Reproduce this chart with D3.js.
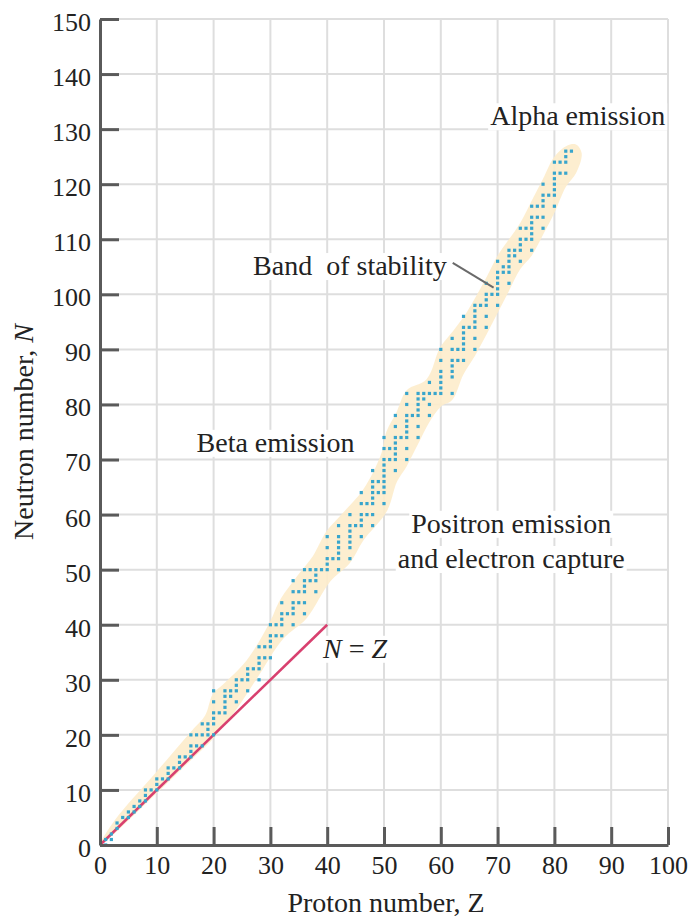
<!DOCTYPE html>
<html>
<head>
<meta charset="utf-8">
<script src="https://cdn.jsdelivr.net/npm/d3@7"></script>
<style>
  html, body { margin: 0; padding: 0; background: #fff; }
  svg { display: block; }
  text { font-family: "Liberation Serif", "Times New Roman", serif; fill: #222; }
</style>
</head>
<body>
<svg id="chart" width="693" height="917"></svg>
<script>
// ---------- data ----------
const zTicks = [0, 10, 20, 30, 40, 50, 60, 70, 80, 90, 100];
const nTicks = [0, 10, 20, 30, 40, 50, 60, 70, 80, 90, 100, 110, 120, 130, 140, 150];

// stable neutron numbers N for each proton number Z = 1..83 (index = Z-1)
const stableNeutrons = [
  [0,1],[1,2],[3,4],[5],[5,6],[6,7],[7,8],[8,9,10],[10],[10,11,12],
  [12],[12,13,14],[14],[14,15,16],[16],[16,17,18,20],[18,20],[18,20,22],[20,21,22],[20,22,23,24,26,28],
  [24],[24,25,26,27,28],[27,28],[26,28,29,30],[30],[28,30,31,32],[32],[30,32,33,34,36],[34,36],[34,36,37,38,40],
  [38,40],[38,40,41,42,44],[42],[40,42,43,44,46,48],[44,46],[42,44,46,47,48,50],[48,50],[46,48,49,50],[50],[50,51,52,54,56],
  [52],[50,52,53,54,55,56,58],[],[52,54,55,56,57,58,60],[58],[56,58,59,60,62,64],[60,62],[58,60,62,63,64,65,66,68],[64,66],[62,64,65,66,67,68,69,70,72,74],
  [70,72],[68,70,71,72,73,74,76,78],[74],[70,72,74,75,76,77,78,80,82],[78],[74,76,78,79,80,81,82],[81,82],[78,80,82,84],[82],[82,83,84,85,86,88,90],
  [],[82,85,86,87,88,90,92],[88,90],[88,90,91,92,93,94,96],[94],[90,92,94,95,96,97,98],[98],[94,96,98,99,100,102],[100],[98,100,101,102,103,104,106],
  [104,105],[102,104,105,106,107,108],[107,108],[106,108,109,110,112],[110,112],[108,110,111,112,113,114,116],[114,116],[112,114,116,117,118,120],[118],[116,118,119,120,121,122,124],
  [122,124],[122,124,125,126],[126]
];

// band of stability outline [Z, N]
const bandUpper = [
  [0,0],[2.6,4.5],[9.7,13],[16.2,20.8],[18.5,23.5],[19.9,27.5],[21.5,29],[25.8,33.5],[29.9,40.5],
  [31.7,44.5],[35.2,49.5],[37.5,52.5],[39.9,57],[42.3,59.8],[46.3,64.5],[49.5,71],[50.4,75],
  [52.2,78.6],[54,82.6],[57.5,84.6],[59.9,90.4],[62.2,93.4],[64.6,96.8],[68,103],[70,107],
  [74,113],[76,117],[78,121],[80,125],[82.2,127],[83.8,127.2]
];
const bandLower = [
  [0,0],[10,9.4],[16,15.4],[20,19.4],[24,24.6],[27.6,30.2],[32.3,37.5],[36.4,41.2],[40.5,47.8],
  [44,51.2],[46.3,55.2],[50.5,60.6],[52.3,66],[54,68.8],[56,72.8],[58,76.8],[60,79.6],[62,80.8],
  [64,85.5],[66,88.8],[68,92.6],[70,96.6],[72,100.6],[74,104.6],[76,107],[78,110.8],[80,114.8],
  [82,119.5],[83.8,122],[84.8,125.6]
];

const nEqualsZ = [[0,0],[40,40]];
const stabilityPointer = [[62.1,105.7],[69.3,101.2]];

// ---------- layout ----------
const svg = d3.select("#chart");
const x = d3.scaleLinear().domain([0, 100]).range([100, 668]);
const y = d3.scaleLinear().domain([0, 150]).range([845, 19]);

// grid
const grid = svg.append("g");
grid.selectAll("line.v").data(zTicks.slice(1)).join("line")
  .attr("x1", d => x(d)).attr("x2", d => x(d))
  .attr("y1", y(0)).attr("y2", y(150))
  .attr("stroke", "#dedede").attr("stroke-width", 2);
grid.selectAll("line.h").data(nTicks.slice(1)).join("line")
  .attr("x1", x(0)).attr("x2", x(100))
  .attr("y1", d => y(d)).attr("y2", d => y(d))
  .attr("stroke", "#dedede").attr("stroke-width", 2);

// band
const bandPts = bandUpper.concat(bandLower.slice().reverse().slice(0, -1));
svg.append("path")
  .datum(bandPts)
  .attr("d", d3.line().x(d => x(d[0])).y(d => y(d[1])).curve(d3.curveCatmullRomClosed.alpha(0.5)))
  .attr("fill", "#fdeccb")
  .attr("fill-opacity", 0.9)
  .attr("stroke", "none");

// N = Z line
svg.append("path")
  .datum(nEqualsZ)
  .attr("d", d3.line().x(d => x(d[0])).y(d => y(d[1])))
  .attr("stroke", "#d8406f").attr("stroke-width", 2.6).attr("fill", "none");

// stable nuclides
const nuclides = [];
stableNeutrons.forEach((ns, i) => ns.forEach(n => nuclides.push({ z: i + 1, n })));
svg.append("g").selectAll("rect").data(nuclides).join("rect")
  .attr("x", d => x(d.z) - 1.6)
  .attr("y", d => y(d.n) - 1.6)
  .attr("width", 3.2).attr("height", 3.2)
  .attr("fill", "#38a5cc");

// axes
const yAxis = svg.append("g").attr("transform", `translate(${x(0)},0)`)
  .call(d3.axisLeft(y).tickValues(nTicks).tickSizeInner(-19).tickSizeOuter(0).tickPadding(9));
const xAxis = svg.append("g").attr("transform", `translate(0,${y(0)})`)
  .call(d3.axisBottom(x).tickValues(zTicks).tickSizeInner(-18).tickSizeOuter(0).tickPadding(11));
[xAxis, yAxis].forEach(g => {
  g.select(".domain").attr("stroke", "#5a5a5a").attr("stroke-width", 3);
  g.selectAll(".tick line").attr("stroke", "#5a5a5a").attr("stroke-width", 3);
  g.selectAll(".tick text").attr("font-size", 26).attr("fill", "#222")
    .attr("font-family", '"Liberation Serif", serif');
});
yAxis.selectAll(".tick text").attr("dy", "0.44em");
xAxis.selectAll(".tick text").attr("dy", "0.71em");

// axis titles
const xt = svg.append("text")
  .attr("x", 386).attr("y", 912).attr("text-anchor", "middle").attr("font-size", 28);
xt.append("tspan").text("Proton number, ");
xt.append("tspan").text("Z");

const yt = svg.append("text")
  .attr("transform", `translate(33,${(y(0) + y(150)) / 2}) rotate(-90)`)
  .attr("text-anchor", "middle").attr("font-size", 28);
yt.append("tspan").text("Neutron number, ");
yt.append("tspan").attr("font-style", "italic").text("N");

// pointer to band
svg.append("path")
  .datum(stabilityPointer)
  .attr("d", d3.line().x(d => x(d[0])).y(d => y(d[1])))
  .attr("stroke", "#6a6a6a").attr("stroke-width", 2).attr("fill", "none");

// region labels with white background
function label(parts, zc, nb) {
  const g = svg.append("g");
  const bg = g.append("rect").attr("fill", "#fff");
  const t = g.append("text")
    .attr("x", x(zc)).attr("y", y(nb))
    .attr("text-anchor", "middle").attr("font-size", 28)
    .attr("fill", "#262626")
    .style("white-space", "pre");
  parts.forEach(p => t.append("tspan").attr("font-style", p.italic ? "italic" : null).text(p.t));
  const b = t.node().getBBox();
  bg.attr("x", b.x - 2).attr("y", b.y + 3).attr("width", b.width + 4).attr("height", b.height - 4);
}
label([{ t: "Alpha emission" }], 84.1, 130.7);
label([{ t: "Band  of stability" }], 44.0, 103.5);
label([{ t: "Beta emission" }], 30.9, 71.4);
label([{ t: "Positron emission" }], 72.4, 56.7);
label([{ t: "and electron capture" }], 72.4, 50.3);
label([{ t: "N", italic: true }, { t: " = " }, { t: "Z", italic: true }], 44.9, 34.0);
</script>
</body>
</html>
